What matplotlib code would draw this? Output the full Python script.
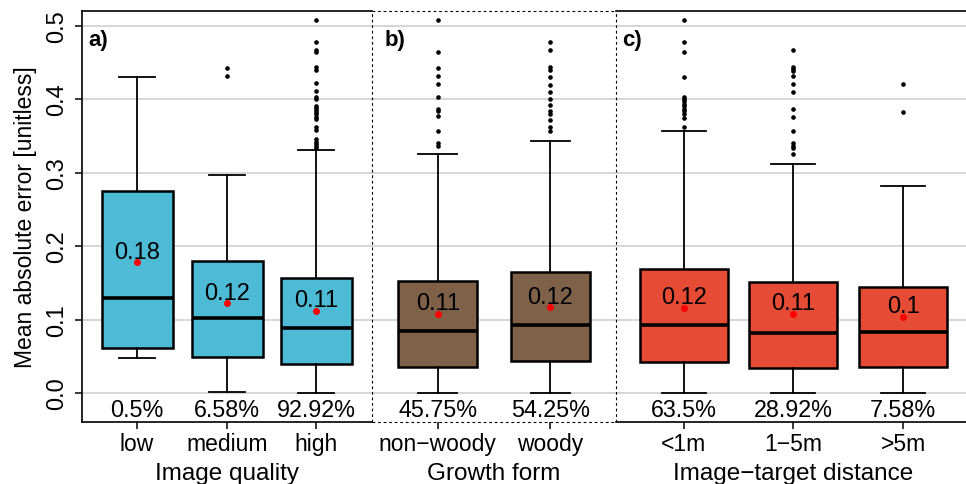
import matplotlib
matplotlib.use("Agg")
import matplotlib.pyplot as plt
import matplotlib.transforms as mtransforms

plt.rcParams['font.family'] = ['Liberation Sans', 'DejaVu Sans']

# ---------------- data ----------------
categories = ["low", "medium", "high", "non\u2212woody", "woody", "<1m", "1\u22125m", ">5m"]
groups = ["Image quality", "Growth form", "Image\u2212target distance"]
panel_tags = ["a)", "b)", "c)"]
group_members = [[0, 1, 2], [3, 4], [5, 6, 7]]

q1 = [0.061, 0.049, 0.039, 0.036, 0.043, 0.042, 0.034, 0.035]
median = [0.129, 0.102, 0.088, 0.085, 0.092, 0.093, 0.082, 0.083]
q3 = [0.275, 0.180, 0.156, 0.153, 0.164, 0.169, 0.151, 0.144]
whislo = [0.048, 0.0015, 0.0, 0.0, 0.0, 0.0, 0.0, 0.0]
whishi = [0.430, 0.296, 0.331, 0.325, 0.343, 0.357, 0.311, 0.281]
means = [0.178, 0.122, 0.112, 0.108, 0.117, 0.116, 0.108, 0.104]
mean_labels = ["0.18", "0.12", "0.11", "0.11", "0.12", "0.12", "0.11", "0.1"]
share_labels = ["0.5%", "6.58%", "92.92%", "45.75%", "54.25%", "63.5%", "28.92%", "7.58%"]

fliers_low = []
fliers_medium = [0.442, 0.431]
fliers_high = [0.508, 0.477, 0.467, 0.4635, 0.443, 0.440, 0.422, 0.411, 0.403, 0.400,
               0.391, 0.388, 0.385, 0.382, 0.379, 0.376, 0.373, 0.3615, 0.358,
               0.345, 0.342, 0.339, 0.336, 0.334]
fliers_nonwoody = [0.5075, 0.4635, 0.442, 0.431, 0.420, 0.403, 0.387, 0.384, 0.377,
                   0.357, 0.3405, 0.3366]
fliers_woody = [0.477, 0.467, 0.443, 0.440, 0.4295, 0.4195, 0.410, 0.400, 0.392,
                0.383, 0.380, 0.372, 0.362, 0.357]
fliers_lt1 = [0.5075, 0.477, 0.4635, 0.4295, 0.403, 0.400, 0.397, 0.393, 0.390,
              0.386, 0.383, 0.380, 0.374, 0.362]
fliers_1to5 = [0.467, 0.443, 0.4405, 0.438, 0.431, 0.420, 0.410, 0.386, 0.376, 0.357,
               0.3405, 0.3366, 0.333, 0.3253]
fliers_gt5 = [0.4205, 0.382]
fliers = [fliers_low, fliers_medium, fliers_high, fliers_nonwoody, fliers_woody,
          fliers_lt1, fliers_1to5, fliers_gt5]

y_ticks = [0.0, 0.1, 0.2, 0.3, 0.4, 0.5]
y_tick_labels = ["0.0", "0.1", "0.2", "0.3", "0.4", "0.5"]

# ---------------- layout ----------------
W, H = 966, 485
positions = [137, 227, 316, 437.7, 550.3, 684, 793, 903]
widths = [71, 71, 71, 79, 79, 88, 88, 88]
colors = ["#4DBBD5"] * 3 + ["#7E6148"] * 2 + ["#E64B35"] * 3
sep_x = [372.3, 616.0]
x_left, x_right = 81.7, 968.0
px_top, px_bot = 11.7, 423.0

def val_from_px(py):
    return (394.0 - py) / 735.0

fig = plt.figure(figsize=(W / 100, H / 100), dpi=100)
ax = fig.add_axes([x_left / W, 1 - px_bot / H, (x_right - x_left) / W, (px_bot - px_top) / H])
ax.set_xlim(x_left, x_right)
ax.set_ylim(val_from_px(px_bot), val_from_px(px_top))

# grid
for yv in y_ticks:
    ax.axhline(yv, color="#cfcfcf", lw=1.2, zorder=0)

stats = []
for i in range(len(categories)):
    stats.append(dict(med=median[i], q1=q1[i], q3=q3[i], whislo=whislo[i],
                      whishi=whishi[i], fliers=fliers[i], mean=means[i], label=categories[i]))

bp = ax.bxp(stats, positions=positions, widths=widths, patch_artist=True,
            showmeans=True, showfliers=True,
            boxprops=dict(linewidth=1.8, edgecolor="black"),
            medianprops=dict(color="black", linewidth=2.6),
            whiskerprops=dict(color="black", linewidth=1.3),
            capprops=dict(color="black", linewidth=1.3),
            flierprops=dict(marker="o", markersize=2.3, markerfacecolor="black",
                            markeredgecolor="black", linestyle="none"),
            meanprops=dict(marker="o", markersize=4, markerfacecolor="red",
                           markeredgecolor="red"),
            capwidths=[w * 0.5 for w in widths], zorder=3)
for patch, c in zip(bp["boxes"], colors):
    patch.set_facecolor(c)

# mean labels and share labels
for i in range(len(categories)):
    ax.text(positions[i], means[i] + 0.0140, mean_labels[i], ha="center", va="center",
            fontsize=17, color="black", zorder=5)
    ax.text(positions[i], val_from_px(411), share_labels[i], ha="center", va="center",
            fontsize=16.8, color="black")

# panel tags
tag_x = [88, 385, 621.7]
for tx, tag in zip(tag_x, panel_tags):
    ax.text(tx, val_from_px(41), tag, ha="left", va="center", fontsize=16,
            fontweight="bold")

# spines
for s in ["top", "bottom", "right"]:
    ax.spines[s].set_visible(False)
ax.spines["left"].set_linewidth(1.2)
xt = ax.get_xaxis_transform()
for yy in [0, 1]:
    ax.plot([x_left, sep_x[0]], [yy, yy], transform=xt, color="black", lw=1.2, clip_on=False)
    ax.plot([sep_x[1], x_right], [yy, yy], transform=xt, color="black", lw=1.2, clip_on=False)
    ax.plot([sep_x[0], sep_x[1]], [yy, yy], transform=xt, color="black", lw=0.8,
            linestyle=(0, (2.5, 2.5)), clip_on=False)
for sx in sep_x:
    ax.plot([sx, sx], [0, 1], transform=xt, color="black", lw=0.8,
            linestyle=(0, (2.5, 2.5)), clip_on=False)

# ticks
ax.set_yticks(y_ticks)
ax.set_yticklabels(y_tick_labels, rotation=90, va="center")
ax.tick_params(axis="y", length=5, width=1.1, labelsize=17, pad=5)
ax.set_xticks(positions)
ax.set_xticklabels(categories)
ax.tick_params(axis="x", length=5, width=1.1, labelsize=16.5, pad=2)

ax.set_ylabel("Mean absolute error [unitless]", fontsize=16.5, labelpad=6)

# group labels
blend = mtransforms.blended_transform_factory(ax.transData, fig.transFigure)
for g, members in zip(groups, group_members):
    cx = sum(positions[m] for m in members) / len(members)
    ax.text(cx, (H - 474) / H, g, transform=blend, ha="center", va="center", fontsize=17.5)

fig.savefig("out.png", dpi=100)
